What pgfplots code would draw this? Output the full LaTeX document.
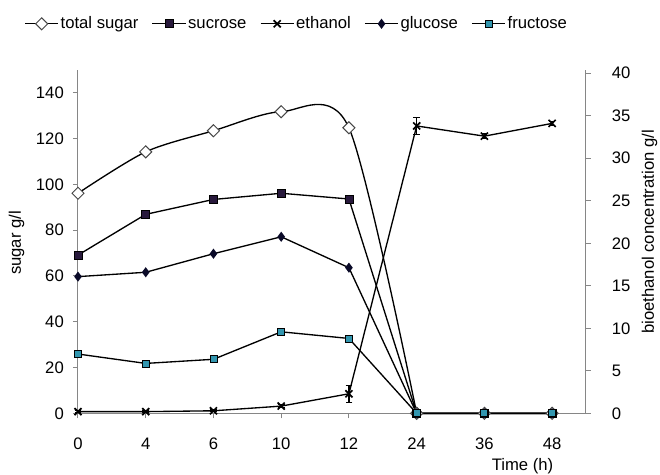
\documentclass[border=0pt]{standalone}
\usepackage{fontspec}
\setmainfont{Liberation Sans}
\usepackage{pgfplots}
\pgfplotsset{compat=1.18}
\definecolor{axgray}{RGB}{134,134,134}
\definecolor{sucfill}{RGB}{40,25,60}
\definecolor{frufill}{RGB}{50,150,175}
\definecolor{glufill}{RGB}{10,10,40}
\definecolor{tsdraw}{RGB}{70,70,70}

\tikzset{
  tsugarline/.style={black, line width=0.8pt, mark=square*, mark size=2.55pt,
    mark options={rotate=45, solid, fill=white, draw=tsdraw, line width=0.6pt}},
  tsugar/.style={tsugarline, smooth, tension=0.48},
  sucrose/.style={black, line width=0.8pt, mark=square*, mark size=2.4pt,
    mark options={solid, fill=sucfill, draw=black, line width=0.5pt}},
  ethanol/.style={black, line width=0.8pt, mark=x, mark size=3pt,
    mark options={solid, black, line width=1pt}},
  glucose/.style={black, line width=0.8pt, mark=diamond*, mark size=2.4pt,
    mark options={solid, fill=glufill, draw=glufill}},
  fructose/.style={black, line width=0.8pt, mark=square*, mark size=2.1pt,
    mark options={solid, fill=frufill, draw=black, line width=0.5pt}},
}

\pgfplotsset{
  common/.style={
    scale only axis, width=304.8pt, height=206.1pt,
    at={(46.8pt,36.4pt)}, anchor=south west,
    xmin=0, xmax=7.5,
    tick align=outside, major tick length=3pt,
    every tick/.style={axgray, line width=0.6pt},
    axis line style={-, axgray, line width=0.6pt},
    every outer x axis line/.append style={-},
    every outer y axis line/.append style={-},
    /pgf/number format/assume math mode=true,
    tick label style={font=\fontsize{10}{12}\selectfont, black},
    label style={font=\fontsize{10}{12}\selectfont, black},
    clip=false,
  }
}

\begin{document}
\begin{tikzpicture}
\path[use as bounding box] (0,0) rectangle (396pt,284.4pt);

\begin{axis}[common,
  axis x line*=bottom, axis y line*=left,
  ymin=0, ymax=150, ytick={0,20,...,140},
  xtick={0,1,2,3,4,5,6,7}, xticklabels={0,4,6,10,12,24,36,48},
  xticklabel style={yshift=-8pt},
  yticklabel style={xshift=-2pt},
  every axis x label/.style={at={(axis description cs:0.875,-0.153)}, anchor=center},
  every axis y label/.style={at={(axis description cs:-0.121,0.496)}, anchor=center, rotate=90},
  xlabel={Time (h)}, ylabel={sugar g/l},
]
\addplot[tsugar] coordinates {(0,96.1) (1,114.2) (2,123.4) (3,131.7) (4,124.7) (5,0)};
\addplot[tsugarline] coordinates {(5,0) (6,0) (7,0)};
\addplot[sucrose] coordinates {(0,69.1) (1,86.9) (2,93.4) (3,96.1) (4,93.6) (5,0) (6,0) (7,0)};
\addplot[glucose] coordinates {(0,59.7) (1,61.6) (2,69.7) (3,77.1) (4,63.6) (5,0) (6,0) (7,0)};
\addplot[fructose] coordinates {(0,25.9) (1,21.8) (2,23.6) (3,35.6) (4,32.7) (5,0) (6,0) (7,0)};
\end{axis}

\begin{axis}[common,
  axis y line*=right, axis x line=none,
  ymin=0, ymax=40.4, ytick={0,5,...,40},
  yticklabel style={xshift=9pt},
  every axis y label/.style={at={(axis description cs:1.125,0.528)}, anchor=center, rotate=90},
  ylabel={bioethanol concentration g/l},
  legend columns=5,
  legend image code/.code={\draw[mark repeat=2,mark phase=2,#1] plot coordinates {(0pt,0pt) (10pt,0pt) (20pt,0pt)};},
  legend style={at={(axis description cs:-0.1063,1.134)}, anchor=west, draw=none, fill=none,
    inner sep=0pt, font=\fontsize{10}{12}\selectfont,
    nodes={inner xsep=1pt, inner ysep=1pt, text depth=2.2pt, text height=7.4pt},
    /tikz/every even column/.append style={column sep=7pt}},
]
\addlegendimage{tsugarline}
\addlegendimage{sucrose}
\addplot[ethanol, error bars/.cd, y dir=both, y explicit,
  error bar style={black, line width=0.7pt},
  error mark options={rotate=90, mark size=2pt, black, line width=0.7pt}]
  coordinates {(0,0.2) +- (0,0.1) (1,0.2) +- (0,0.1) (2,0.3) +- (0,0.1) (3,0.85) +- (0,0.2)
               (4,2.3) +- (0,1.0) (5,33.8) +- (0,1.0) (6,32.6) +- (0,0.3) (7,34.1) +- (0,0.2)};
\addlegendimage{glucose}
\addlegendimage{fructose}
\legend{total sugar, sucrose, ethanol, glucose, fructose}
\end{axis}
\end{tikzpicture}
\end{document}
